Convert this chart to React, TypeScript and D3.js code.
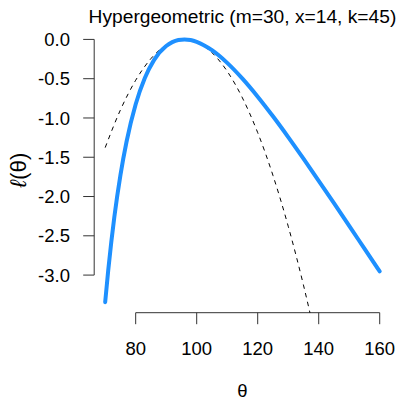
import React from "react";
import * as d3 from "d3";

// Relative log-likelihood l(θ)
const thetaGrid = [70, 71, 72, 73, 75, 77, 80, 83, 86, 90, 92, 94, 96, 98, 100, 105, 110, 115, 120, 125, 130, 135, 140, 145, 150, 155, 160];
const logLik = [-3.345, -2.938, -2.579, -2.261, -1.727, -1.303, -0.826, -0.4915, -0.2639, -0.0838, -0.0348, -0.0079, 0, -0.0082, -0.0308, -0.1373, -0.2989, -0.4998, -0.7292, -0.9791, -1.2434, -1.518, -1.7997, -2.0855, -2.374, -2.6636, -2.953];

// Quadratic approximation (dashed)
const approxTheta = [70, 75, 80, 85, 90, 95, 96, 100, 105, 110, 115, 120, 125, 130, 135, 140];
const approxLik = [-1.3774, -0.8974, -0.5198, -0.2447, -0.072, -0.0018, 0, -0.0339, -0.1685, -0.4055, -0.745, -1.1868, -1.7311, -2.3778, -3.1269, -3.9785];

const xTicks = [80, 100, 120, 140, 160];
const yTicks = [0, -0.5, -1, -1.5, -2, -2.5, -3];
const yTickLabels = ["0.0", "-0.5", "-1.0", "-1.5", "-2.0", "-2.5", "-3.0"];

const title = "Hypergeometric (m=30, x=14, k=45)";
const xLabel = "θ";
const yLabelScript = "ℓ";
const yLabelRest = "(θ)";

export default function App() {
  const W = 402, H = 399;
  const x = d3.scaleLinear().domain([66.4, 163.6]).range([94.2, 390.7]);
  const y = d3.scaleLinear().domain([-3.4788, 0.1338]).range([312.7, 28.9]);
  const [x0, x1] = x.range();
  const [yb, yt] = y.range();

  const line = d3
    .line<[number, number]>()
    .x((d) => x(d[0]))
    .y((d) => y(d[1]))
    .curve(d3.curveMonotoneX);

  const main = line(thetaGrid.map((t, i) => [t, logLik[i]] as [number, number])) || "";
  const approx = line(approxTheta.map((t, i) => [t, approxLik[i]] as [number, number])) || "";

  const font = "'Liberation Sans', Arial, Helvetica, sans-serif";
  const fs = 18.5;
  const axisColor = "#333";

  return (
    <svg
      width={W}
      height={H}
      style={{ position: "absolute", left: 0, top: 0, background: "#fff" }}
      fontFamily={font}
    >
      <defs>
        <clipPath id="plotClip">
          <rect x={x0} y={yt} width={x1 - x0} height={yb - yt} />
        </clipPath>
      </defs>

      <text x={(x0 + x1) / 2} y={22.7} textAnchor="middle" fontSize={19.2} fill="#000">
        {title}
      </text>

      {/* y axis */}
      <line x1={x0} x2={x0} y1={y(0)} y2={y(-3)} stroke={axisColor} strokeWidth={1} />
      {yTicks.map((v, i) => (
        <g key={v}>
          <line x1={x0 - 11} x2={x0} y1={y(v)} y2={y(v)} stroke={axisColor} strokeWidth={1} />
          <text x={70} y={y(v)} dy="0.36em" textAnchor="end" fontSize={fs} fill="#000">
            {yTickLabels[i]}
          </text>
        </g>
      ))}

      {/* x axis */}
      <line x1={x(80)} x2={x(160)} y1={yb} y2={yb} stroke={axisColor} strokeWidth={1} />
      {xTicks.map((v) => (
        <g key={v}>
          <line x1={x(v)} x2={x(v)} y1={yb} y2={yb + 11.5} stroke={axisColor} strokeWidth={1} />
          <text x={x(v)} y={355} textAnchor="middle" fontSize={fs} fill="#000">
            {v}
          </text>
        </g>
      ))}

      <text x={(x0 + x1) / 2} y={396.5} textAnchor="middle" fontSize={fs} fill="#000">
        {xLabel}
      </text>
      <text
        transform={`translate(26, 170) rotate(-90)`}
        textAnchor="middle"
        fontSize={22.5}
        fill="#000"
      >
        <tspan fontStyle="italic">{yLabelScript}</tspan>
        <tspan>{yLabelRest}</tspan>
      </text>

      <g clipPath="url(#plotClip)">
        <path d={approx} fill="none" stroke="#000" strokeWidth={1} strokeDasharray="4.5,4.5" />
        <path d={main} fill="none" stroke="#1E90FF" strokeWidth={4} strokeLinecap="round" />
      </g>
    </svg>
  );
}
